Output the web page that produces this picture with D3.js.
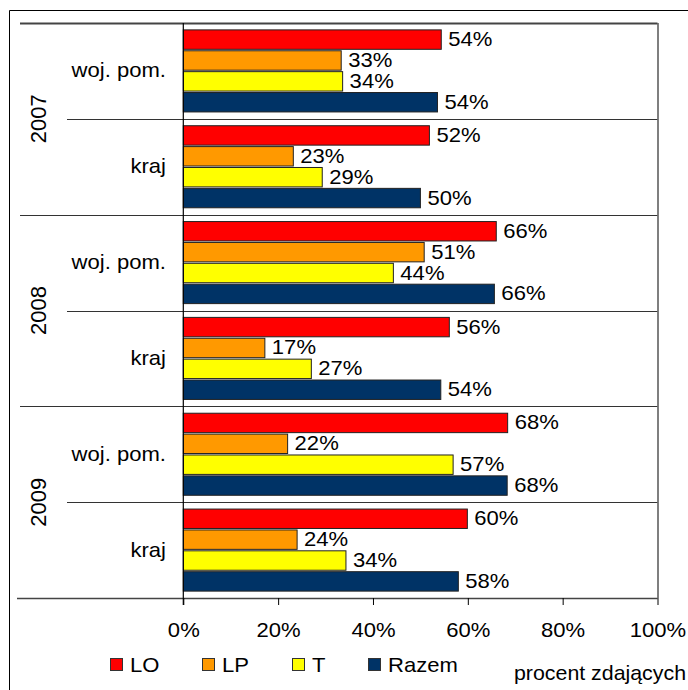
<!DOCTYPE html>
<html>
<head>
<meta charset="utf-8">
<script src="https://cdn.jsdelivr.net/npm/d3@7"></script>
<style>
html,body{margin:0;padding:0;background:#fff;}
svg{display:block;}
text{font-family:"Liberation Sans",Arial,sans-serif;fill:#000;}
</style>
</head>
<body>
<div id="chart"></div>
<script>
// ---- data ----
const years = ["2007", "2008", "2009"];
const regions = ["woj. pom.", "kraj"];
const seriesNames = ["LO", "LP", "T", "Razem"];
// values in category order: 2007 woj, 2007 kraj, 2008 woj, 2008 kraj, 2009 woj, 2009 kraj
const LO    = [54.4, 51.9, 66.0, 56.1, 68.4, 59.9];
const LP    = [33.3, 23.2, 50.8, 17.2, 22.0, 24.0];
const T     = [33.6, 29.3, 44.3, 27.0, 56.9, 34.3];
const Razem = [53.6, 50.0, 65.6, 54.3, 68.3, 58.0];
const tickValues = [0, 20, 40, 60, 80, 100];
const axisTitle = "procent zdających";

const seriesValues = [LO, LP, T, Razem];
const colors = ["#FF0000", "#FF9900", "#FFFF00", "#003366"];

const W = 688, H = 690;
const plot = {left: 183.3, right: 657.5, top: 23, bottom: 598};
const FS = 21;
const STRETCH = 1.05;

const svg = d3.select("#chart").append("svg").attr("width", W).attr("height", H);

// outer frame (extends beyond picture right/bottom)
svg.append("path").attr("d", `M9.5,${H+5} V10.5 H${W+5}`).attr("fill", "none").attr("stroke", "#000").attr("stroke-width", 1);

const categories = [];
years.forEach(y => regions.forEach(r => categories.push(y + "|" + r)));

const x = d3.scaleLinear().domain([0, 100]).range([plot.left, plot.right]);
const y = d3.scaleBand().domain(categories).range([plot.top, plot.bottom]).padding(0);
const ys = d3.scaleBand().domain(seriesNames).range([0, y.bandwidth()]).paddingInner(0.07).paddingOuter(0.33);

function stretch(sel) {
  sel.each(function() {
    const len = this.getComputedTextLength();
    d3.select(this).attr("textLength", len * STRETCH).attr("lengthAdjust", "spacingAndGlyphs");
  });
}

// separator lines
categories.forEach((c, i) => {
  const yy = Math.round(y(c)) + 0.5;
  const isYearTop = i % 2 === 0;
  svg.append("line")
    .attr("x1", isYearTop ? 20 : 67).attr("x2", plot.right)
    .attr("y1", yy).attr("y2", yy)
    .attr("stroke", i === 0 ? "#444" : "#333")
    .attr("stroke-width", i === 0 ? 2 : 1);
});
// bottom axis line
svg.append("line").attr("x1", 17).attr("x2", plot.right).attr("y1", plot.bottom + 0.5).attr("y2", plot.bottom + 0.5)
  .attr("stroke", "#444").attr("stroke-width", 1.5);
// right border of plot
svg.append("line").attr("x1", plot.right + 0.5).attr("x2", plot.right + 0.5).attr("y1", plot.top).attr("y2", plot.bottom)
  .attr("stroke", "#555").attr("stroke-width", 1.5);

// bars
const barData = [];
categories.forEach((c, ci) => {
  seriesNames.forEach((s, si) => {
    barData.push({cat: c, s: s, si: si, v: seriesValues[si][ci]});
  });
});

svg.append("g").selectAll("rect").data(barData).join("rect")
  .attr("x", x(0))
  .attr("y", d => y(d.cat) + ys(d.s))
  .attr("width", d => x(d.v) - x(0))
  .attr("height", ys.bandwidth())
  .attr("fill", d => colors[d.si])
  .attr("stroke", "#222")
  .attr("stroke-width", 1);

// value labels
const fmt = d3.format(".0f");
svg.append("g").selectAll("text").data(barData).join("text")
  .attr("x", d => x(d.v) + 7)
  .attr("y", d => y(d.cat) + ys(d.s) + ys.bandwidth() / 2 + 6.5)
  .attr("font-size", FS)
  .text(d => fmt(d.v) + "%")
  .call(stretch);

// y axis vertical line
svg.append("line").attr("x1", x(0)).attr("x2", x(0)).attr("y1", plot.top).attr("y2", plot.bottom + 7)
  .attr("stroke", "#000").attr("stroke-width", 1.2);

// x axis ticks and labels
const xAxis = d3.axisBottom(x).tickValues(tickValues).tickSize(7).tickFormat(d => d + "%");
const gx = svg.append("g").attr("transform", `translate(0,${plot.bottom})`).call(xAxis);
gx.select(".domain").remove();
gx.selectAll(".tick line").attr("stroke", "#000");
gx.selectAll(".tick text").attr("font-size", FS).attr("font-family", "Liberation Sans, Arial, sans-serif")
  .attr("y", 0).attr("dy", 0).attr("transform", "translate(0,39)").attr("fill", "#000")
  .call(stretch);

// category labels
svg.append("g").selectAll("text").data(categories).join("text")
  .attr("x", 166)
  .attr("y", d => y(d) + y.bandwidth() / 2 + 6.5)
  .attr("text-anchor", "end")
  .attr("font-size", FS)
  .text(d => d.split("|")[1])
  .call(stretch);

// year labels
years.forEach(yr => {
  const cy = y(yr + "|" + regions[0]) + y.bandwidth();
  svg.append("text")
    .attr("transform", `translate(46,${cy}) rotate(-90)`)
    .attr("text-anchor", "middle")
    .attr("font-size", 22)
    .text(yr);
});

// legend
const legendX = [110, 202, 292, 368];
const lg = svg.append("g").selectAll("g").data(seriesNames).join("g")
  .attr("transform", (d, i) => `translate(${legendX[i]},658)`);
lg.append("rect").attr("x", 0.5).attr("y", 0.5).attr("width", 12).attr("height", 12)
  .attr("fill", (d, i) => colors[i]).attr("stroke", "#333").attr("stroke-width", 1);
lg.append("text").attr("x", 20).attr("y", 13.5).attr("font-size", FS).text(d => d).call(stretch);

// axis title
svg.append("text").attr("x", 514).attr("y", 680).attr("font-size", FS).text(axisTitle)
  .attr("textLength", 172).attr("lengthAdjust", "spacingAndGlyphs");
</script>
</body>
</html>
